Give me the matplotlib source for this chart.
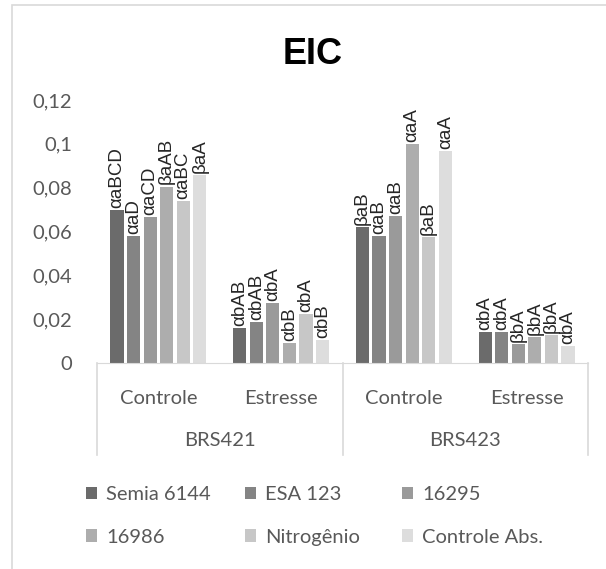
import matplotlib.pyplot as plt
import numpy as np
from matplotlib.patches import Rectangle
import matplotlib.transforms as mtransforms

# EIC per inoculant, cultivar and water condition
groups = ["Controle", "Estresse", "Controle", "Estresse"]
cultivars = ["BRS421", "BRS423"]
series = ["Semia 6144", "ESA 123", "16295", "16986", "Nitrogênio", "Controle Abs."]
colors = ["#6b6b6b", "#848484", "#9a9a9a", "#adadad", "#c7c7c7", "#dddddd"]

semia = [0.0696, 0.0159, 0.0620, 0.0143]
esa = [0.0580, 0.0188, 0.0580, 0.0143]
s16295 = [0.0665, 0.0272, 0.0670, 0.0085]
s16986 = [0.0805, 0.0093, 0.0997, 0.0120]
nitro = [0.0740, 0.0223, 0.0574, 0.0127]
ctrl_abs = [0.0856, 0.0105, 0.0968, 0.0076]
values = [semia, esa, s16295, s16986, nitro, ctrl_abs]

labels = [
    ["αaBCD", "αbAB", "βaB", "αbA"],
    ["αaD", "αbAB", "αaB", "αbA"],
    ["αaCD", "αbA", "αaB", "βbA"],
    ["βaAB", "αbB", "αaA", "βbA"],
    ["αaBC", "αbA", "βaB", "βbA"],
    ["βaA", "αbB", "αaA", "αbA"],
]

yticks = [0, 0.02, 0.04, 0.06, 0.08, 0.1, 0.12]
ytick_labels = ["0", "0,02", "0,04", "0,06", "0,08", "0,1", "0,12"]

W, H = 606, 569
fig = plt.figure(figsize=(W / 100, H / 100), dpi=100)
fig.patches.append(Rectangle((12 / W, -0.1), 1.0, 1 - 5 / H + 0.1, transform=fig.transFigure,
                             fill=False, edgecolor="#d9d9d9", linewidth=1.2))

left, right, top, bottom = 97, 588, 100, 363
ax = fig.add_axes([left / W, 1 - bottom / H, (right - left) / W, (bottom - top) / H])

x = np.arange(len(groups))
pitch, width = 0.135, 0.107
for i, (name, vals, col) in enumerate(zip(series, values, colors)):
    xs = x + (i - 2.5) * pitch
    bars = ax.bar(xs, vals, width, color=col, label=name)
    for b, txt in zip(bars, labels[i]):
        ax.annotate(txt, (b.get_x() + b.get_width() / 2, b.get_height()),
                    xytext=(0, 1.5), textcoords="offset points", rotation=90,
                    ha="center", va="bottom", fontsize=13.5,
                    family="Liberation Sans", color="#262626")

ax.set_xlim(-0.5, 3.5)
ax.set_ylim(0, 0.12)
ax.set_yticks(yticks)
ax.set_yticklabels(ytick_labels, family="Lato", fontsize=14.5, color="#595959")
ax.tick_params(axis="y", length=0, pad=18)
ax.set_xticks([])
for s in ["top", "right", "left"]:
    ax.spines[s].set_visible(False)
ax.spines["bottom"].set_color("#d9d9d9")

# two-level category axis
trans = mtransforms.blended_transform_factory(ax.transData, ax.transAxes)
box_bottom = -(455 - bottom) / (bottom - top)
for xv in [-0.5, 1.5, 3.5]:
    ax.plot([xv, xv], [0, box_bottom], color="#d9d9d9", lw=1.2, transform=trans, clip_on=False)
for xv, g in zip(x, groups):
    ax.text(xv, -(398 - bottom) / (bottom - top), g, transform=trans, ha="center", va="center",
            family="Lato", fontsize=14.5, color="#595959")
for k, c in enumerate(cultivars):
    ax.text(2 * k + 0.5, -(440 - bottom) / (bottom - top), c, transform=trans, ha="center", va="center",
            family="Lato", fontsize=14.5, color="#595959")

fig.text(313 / W, 1 - 54 / H, "EIC", ha="center", va="center", fontsize=26,
         fontweight="bold", family="Liberation Sans", color="black")

# legend laid out row by row: three columns of equal width
handles, names = ax.get_legend_handles_labels()
col_x = [86, 245, 402]
for c, cx in enumerate(col_x):
    leg = fig.legend([handles[c], handles[c + 3]], [names[c], names[c + 3]], loc="center left",
                     bbox_to_anchor=(cx / W, 1 - 516 / H), frameon=False,
                     prop={"family": "Lato", "size": 14.5}, handlelength=0.55, handleheight=0.55,
                     handletextpad=0.45, labelspacing=1.25, borderpad=0, borderaxespad=0)
    for t in leg.get_texts():
        t.set_color("#595959")

fig.savefig("out.png", dpi=100)
